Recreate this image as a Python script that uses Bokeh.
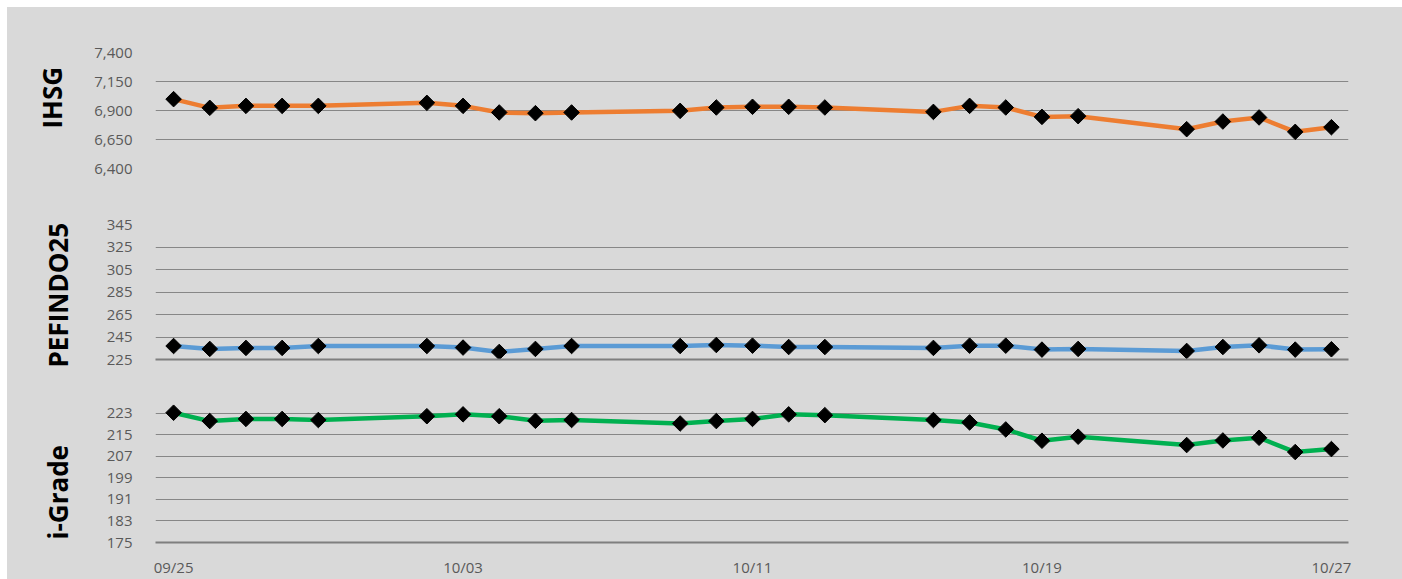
import math
import pandas as pd
from bokeh.plotting import figure
from bokeh.layouts import column
from bokeh.models import (Range1d, FixedTicker, DatetimeTickFormatter, NumeralTickFormatter,
                          ColumnDataSource, Title)
from bokeh.embed import file_html
from bokeh.resources import INLINE

# ---- data ----
dates = ["2023-09-25", "2023-09-26", "2023-09-27", "2023-09-28", "2023-09-29",
         "2023-10-02", "2023-10-03", "2023-10-04", "2023-10-05", "2023-10-06",
         "2023-10-09", "2023-10-10", "2023-10-11", "2023-10-12", "2023-10-13",
         "2023-10-16", "2023-10-17", "2023-10-18", "2023-10-19", "2023-10-20",
         "2023-10-23", "2023-10-24", "2023-10-25", "2023-10-26", "2023-10-27"]
ihsg = [6998, 6923, 6940, 6940, 6940, 6966, 6940, 6883, 6877, 6883,
        6897, 6926, 6932, 6932, 6926, 6888, 6940, 6926, 6845, 6851,
        6739, 6805, 6840, 6716, 6756]
pefindo25 = [237.0, 234.4, 235.3, 235.3, 237.0, 237.0, 235.6, 231.7, 234.4, 237.0,
             237.0, 237.9, 237.3, 236.1, 236.1, 235.3, 237.3, 237.3, 233.8, 234.4,
             232.6, 236.1, 237.6, 233.8, 234.1]
igrade = [223.2, 220.1, 220.9, 220.9, 220.5, 221.9, 222.6, 221.9, 220.2, 220.5,
          219.2, 220.1, 220.9, 222.6, 222.3, 220.5, 219.6, 217.0, 212.8, 214.3,
          211.2, 212.9, 213.9, 208.6, 209.7]
x_tick_dates = ["2023-09-25", "2023-10-03", "2023-10-11", "2023-10-19", "2023-10-27"]
ihsg_ticks = [6400, 6650, 6900, 7150, 7400]
pefindo_ticks = [225, 245, 265, 285, 305, 325, 345]
igrade_ticks = [175, 183, 191, 199, 207, 215, 223]

BG = "#d9d9d9"
GRID = "#878787"
TICK_TXT = "#595959"
W = 1395

x = pd.to_datetime(dates)
x_start = pd.Timestamp("2023-09-24 12:00")
x_end = pd.Timestamp("2023-10-27 11:20")


def make_panel(values, color, title, ticks, yr, height, top, bottom, pad, offset,
               fmt=None, show_x=False, x_line=False):
    p = figure(width=W, height=height, x_axis_type="datetime", output_backend="svg",
               toolbar_location=None, background_fill_color=BG, border_fill_color=BG,
               x_range=Range1d(x_start, x_end), y_range=Range1d(*yr),
               min_border_left=148, min_border_right=54, min_border_top=top, min_border_bottom=bottom)
    p.outline_line_color = None
    p.xgrid.visible = False
    p.ygrid.grid_line_color = GRID
    p.ygrid.grid_line_width = 1
    p.yaxis.ticker = FixedTicker(ticks=ticks)
    if fmt:
        p.yaxis.formatter = NumeralTickFormatter(format=fmt)
    p.yaxis.axis_line_color = None
    p.yaxis.major_tick_line_color = None
    p.yaxis.minor_tick_line_color = None
    p.yaxis.major_label_text_font = "Open Sans"
    p.yaxis.major_label_text_font_size = "15px"
    p.yaxis.major_label_text_color = TICK_TXT
    p.yaxis.major_label_standoff = 17

    p.add_layout(Title(text=title, align="left", offset=offset, standoff=pad,
                       text_font="Open Sans", text_font_style="bold", text_font_size="26px",
                       text_color="#000000"), "left")

    if show_x or x_line:
        p.xaxis.axis_line_color = "#7f7f7f"
        p.xaxis.axis_line_width = 2
        p.xaxis.major_tick_line_color = None
        p.xaxis.minor_tick_line_color = None
        if show_x:
            p.xaxis.ticker = FixedTicker(ticks=[pd.Timestamp(d).value // 10**6 for d in x_tick_dates])
            p.xaxis.formatter = DatetimeTickFormatter(days="%m/%d", months="%m/%d", hours="%m/%d")
            p.xaxis.major_label_text_font = "Open Sans"
            p.xaxis.major_label_text_color = TICK_TXT
            p.xaxis.major_label_text_font_size = "15px"
            p.xaxis.major_label_standoff = 8
        else:
            p.xaxis.ticker = FixedTicker(ticks=[])
    else:
        p.xaxis.visible = False

    src = ColumnDataSource(dict(x=x, y=values))
    p.line("x", "y", source=src, line_color=color, line_width=4.5)
    p.scatter("x", "y", source=src, marker="square", angle=math.pi / 4, size=11,
              fill_color="black", line_color="black", line_width=1)
    return p


p1 = make_panel(ihsg, "#ED7D31", "IHSG", ihsg_ticks, (6400, 7400), 183, 45, 22, 44, 40, fmt="0,0")
p2 = make_panel(pefindo25, "#5B9BD5", "PEFINDO25", pefindo_ticks, (225, 345), 195, 34, 26, 56, -8, x_line=True)
p3 = make_panel(igrade, "#00B050", "i-Grade", igrade_ticks, (175, 227), 194, 17, 37, 56, 3, show_x=True)

layout = column(p1, p2, p3, spacing=0, margin=(7, 0, 0, 7), styles={"background-color": BG})
open("out.html", "w").write(file_html(layout, INLINE))
